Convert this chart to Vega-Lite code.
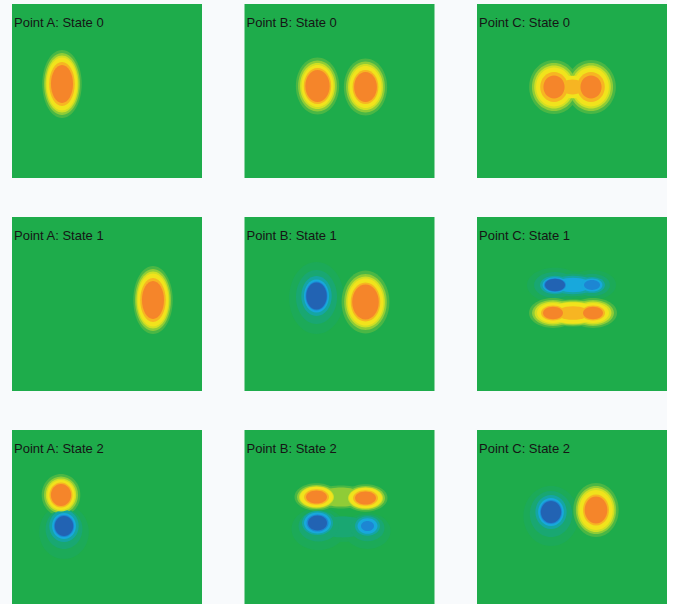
{
  "$schema": "https://vega.github.io/schema/vega-lite/v6.json",
  "background": "#f8fafc",
  "padding": {"left": 12, "top": 4, "right": 0, "bottom": 0},
  "data": {"values": [
    {"c":"A","s":0,"p":"Point A: State 0","x":50,"y":80,"f":"tall","v":1,"lv":1,"r":34},
    {"c":"A","s":0,"p":"Point A: State 0","x":50,"y":80,"f":"tall","v":2,"lv":2,"r":31},
    {"c":"A","s":0,"p":"Point A: State 0","x":50,"y":80,"f":"tall","v":3,"lv":3,"r":28.5},
    {"c":"A","s":0,"p":"Point A: State 0","x":50,"y":80,"f":"tall","v":4,"lv":4,"r":26.5},
    {"c":"A","s":0,"p":"Point A: State 0","x":50,"y":80,"f":"tall","v":5,"lv":5,"r":22},
    {"c":"A","s":0,"p":"Point A: State 0","x":50,"y":80,"f":"tall","v":6,"lv":6,"r":19},

    {"c":"B","s":0,"p":"Point B: State 0","x":73,"y":82,"f":"oval","v":1,"lv":1,"r":28.5},
    {"c":"B","s":0,"p":"Point B: State 0","x":73,"y":82,"f":"oval","v":2,"lv":2,"r":25.5},
    {"c":"B","s":0,"p":"Point B: State 0","x":73,"y":82,"f":"oval","v":3,"lv":3,"r":23},
    {"c":"B","s":0,"p":"Point B: State 0","x":73,"y":82,"f":"oval","v":4,"lv":4,"r":21},
    {"c":"B","s":0,"p":"Point B: State 0","x":73,"y":82,"f":"oval","v":5,"lv":5,"r":18},
    {"c":"B","s":0,"p":"Point B: State 0","x":73,"y":82,"f":"oval","v":6,"lv":6,"r":16},
    {"c":"B","s":0,"p":"Point B: State 0","x":121,"y":83,"f":"oval","v":1,"lv":1,"r":28.5},
    {"c":"B","s":0,"p":"Point B: State 0","x":121,"y":83,"f":"oval","v":2,"lv":2,"r":25.5},
    {"c":"B","s":0,"p":"Point B: State 0","x":121,"y":83,"f":"oval","v":3,"lv":3,"r":23},
    {"c":"B","s":0,"p":"Point B: State 0","x":121,"y":83,"f":"oval","v":4,"lv":4,"r":21},
    {"c":"B","s":0,"p":"Point B: State 0","x":121,"y":83,"f":"oval","v":5,"lv":5,"r":17},
    {"c":"B","s":0,"p":"Point B: State 0","x":121,"y":83,"f":"oval","v":6,"lv":6,"r":15},

    {"c":"C","s":0,"p":"Point C: State 0","x":77,"y":83,"f":"round","v":1,"lv":1,"r":27},
    {"c":"C","s":0,"p":"Point C: State 0","x":77,"y":83,"f":"round","v":2,"lv":2,"r":24},
    {"c":"C","s":0,"p":"Point C: State 0","x":77,"y":83,"f":"round","v":3,"lv":3,"r":21.5},
    {"c":"C","s":0,"p":"Point C: State 0","x":77,"y":83,"f":"round","v":4,"lv":4,"r":19.5},
    {"c":"C","s":0,"p":"Point C: State 0","x":77,"y":83,"f":"round","v":5,"lv":5,"r":15},
    {"c":"C","s":0,"p":"Point C: State 0","x":77,"y":83,"f":"round","v":6,"lv":6,"r":11.5},
    {"c":"C","s":0,"p":"Point C: State 0","x":114,"y":83,"f":"round","v":1,"lv":1,"r":27},
    {"c":"C","s":0,"p":"Point C: State 0","x":114,"y":83,"f":"round","v":2,"lv":2,"r":24},
    {"c":"C","s":0,"p":"Point C: State 0","x":114,"y":83,"f":"round","v":3,"lv":3,"r":21.5},
    {"c":"C","s":0,"p":"Point C: State 0","x":114,"y":83,"f":"round","v":4,"lv":4,"r":19.5},
    {"c":"C","s":0,"p":"Point C: State 0","x":114,"y":83,"f":"round","v":5,"lv":5,"r":15},
    {"c":"C","s":0,"p":"Point C: State 0","x":114,"y":83,"f":"round","v":6,"lv":6,"r":11.5},
    {"c":"C","s":0,"p":"Point C: State 0","x":95.5,"y":83,"f":"wide","v":4,"lv":4,"r":18},
    {"c":"C","s":0,"p":"Point C: State 0","x":95.5,"y":83,"f":"wide","v":5,"lv":5,"r":12},

    {"c":"A","s":1,"p":"Point A: State 1","x":141,"y":83,"f":"tall","v":1,"lv":1,"r":34},
    {"c":"A","s":1,"p":"Point A: State 1","x":141,"y":83,"f":"tall","v":2,"lv":2,"r":31},
    {"c":"A","s":1,"p":"Point A: State 1","x":141,"y":83,"f":"tall","v":3,"lv":3,"r":28.5},
    {"c":"A","s":1,"p":"Point A: State 1","x":141,"y":83,"f":"tall","v":4,"lv":4,"r":26.5},
    {"c":"A","s":1,"p":"Point A: State 1","x":141,"y":83,"f":"tall","v":5,"lv":5,"r":22},
    {"c":"A","s":1,"p":"Point A: State 1","x":141,"y":83,"f":"tall","v":6,"lv":6,"r":19},

    {"c":"B","s":1,"p":"Point B: State 1","x":72,"y":81,"f":"oval","v":-1,"lv":1,"r":36},
    {"c":"B","s":1,"p":"Point B: State 1","x":72,"y":80,"f":"oval","v":-2,"lv":2,"r":27},
    {"c":"B","s":1,"p":"Point B: State 1","x":72,"y":79,"f":"oval","v":-3,"lv":3,"r":20},
    {"c":"B","s":1,"p":"Point B: State 1","x":72,"y":79,"f":"oval","v":-4,"lv":4,"r":16.5},
    {"c":"B","s":1,"p":"Point B: State 1","x":72,"y":79,"f":"oval","v":-5,"lv":5,"r":14.5},
    {"c":"B","s":1,"p":"Point B: State 1","x":72,"y":79,"f":"oval","v":-6,"lv":6,"r":13.5},
    {"c":"B","s":1,"p":"Point B: State 1","x":121,"y":85,"f":"oval","v":1,"lv":1,"r":31.5},
    {"c":"B","s":1,"p":"Point B: State 1","x":121,"y":85,"f":"oval","v":2,"lv":2,"r":28},
    {"c":"B","s":1,"p":"Point B: State 1","x":121,"y":85,"f":"oval","v":3,"lv":3,"r":25.5},
    {"c":"B","s":1,"p":"Point B: State 1","x":121,"y":85,"f":"oval","v":4,"lv":4,"r":23.5},
    {"c":"B","s":1,"p":"Point B: State 1","x":121,"y":85,"f":"oval","v":5,"lv":5,"r":19.5},
    {"c":"B","s":1,"p":"Point B: State 1","x":121,"y":85,"f":"oval","v":6,"lv":6,"r":17.5},

    {"c":"C","s":1,"p":"Point C: State 1","x":96,"y":68,"f":"flat","v":-1,"lv":1,"r":34},
    {"c":"C","s":1,"p":"Point C: State 1","x":78,"y":68,"f":"wide","v":-1,"lv":1,"r":28},
    {"c":"C","s":1,"p":"Point C: State 1","x":115,"y":68,"f":"wide","v":-1,"lv":1,"r":24},
    {"c":"C","s":1,"p":"Point C: State 1","x":96,"y":68,"f":"flat","v":-2,"lv":2,"r":28},
    {"c":"C","s":1,"p":"Point C: State 1","x":78,"y":68,"f":"wide","v":-2,"lv":2,"r":21},
    {"c":"C","s":1,"p":"Point C: State 1","x":115,"y":68,"f":"wide","v":-2,"lv":2,"r":18},
    {"c":"C","s":1,"p":"Point C: State 1","x":96,"y":68,"f":"flat","v":-3,"lv":3,"r":23},
    {"c":"C","s":1,"p":"Point C: State 1","x":78,"y":68,"f":"wide","v":-3,"lv":3,"r":15},
    {"c":"C","s":1,"p":"Point C: State 1","x":115,"y":68,"f":"wide","v":-3,"lv":3,"r":13},
    {"c":"C","s":1,"p":"Point C: State 1","x":96,"y":68,"f":"flat","v":-4,"lv":4,"r":18},
    {"c":"C","s":1,"p":"Point C: State 1","x":78,"y":68,"f":"wide","v":-4,"lv":4,"r":12.5},
    {"c":"C","s":1,"p":"Point C: State 1","x":115,"y":68,"f":"wide","v":-4,"lv":4,"r":10.5},
    {"c":"C","s":1,"p":"Point C: State 1","x":78,"y":68,"f":"wide","v":-5,"lv":5,"r":11},
    {"c":"C","s":1,"p":"Point C: State 1","x":115,"y":68,"f":"wide","v":-5,"lv":5,"r":8},
    {"c":"C","s":1,"p":"Point C: State 1","x":78,"y":68,"f":"wide","v":-6,"lv":6,"r":10},
    {"c":"C","s":1,"p":"Point C: State 1","x":96,"y":96,"f":"flat","v":1,"lv":1,"r":34},
    {"c":"C","s":1,"p":"Point C: State 1","x":76,"y":96,"f":"wide","v":1,"lv":1,"r":24},
    {"c":"C","s":1,"p":"Point C: State 1","x":116,"y":96,"f":"wide","v":1,"lv":1,"r":24},
    {"c":"C","s":1,"p":"Point C: State 1","x":96,"y":96,"f":"flat","v":2,"lv":2,"r":31},
    {"c":"C","s":1,"p":"Point C: State 1","x":76,"y":96,"f":"wide","v":2,"lv":2,"r":21},
    {"c":"C","s":1,"p":"Point C: State 1","x":116,"y":96,"f":"wide","v":2,"lv":2,"r":21},
    {"c":"C","s":1,"p":"Point C: State 1","x":96,"y":96,"f":"flat","v":3,"lv":3,"r":28},
    {"c":"C","s":1,"p":"Point C: State 1","x":76,"y":96,"f":"wide","v":3,"lv":3,"r":18.5},
    {"c":"C","s":1,"p":"Point C: State 1","x":116,"y":96,"f":"wide","v":3,"lv":3,"r":18.5},
    {"c":"C","s":1,"p":"Point C: State 1","x":96,"y":96,"f":"flat","v":4,"lv":4,"r":26},
    {"c":"C","s":1,"p":"Point C: State 1","x":76,"y":96,"f":"wide","v":4,"lv":4,"r":16},
    {"c":"C","s":1,"p":"Point C: State 1","x":116,"y":96,"f":"wide","v":4,"lv":4,"r":16},
    {"c":"C","s":1,"p":"Point C: State 1","x":96,"y":96,"f":"flat","v":5,"lv":5,"r":17},
    {"c":"C","s":1,"p":"Point C: State 1","x":76,"y":96,"f":"wide","v":5,"lv":5,"r":12},
    {"c":"C","s":1,"p":"Point C: State 1","x":116,"y":96,"f":"wide","v":5,"lv":5,"r":12},
    {"c":"C","s":1,"p":"Point C: State 1","x":76,"y":96,"f":"wide","v":6,"lv":6,"r":10},
    {"c":"C","s":1,"p":"Point C: State 1","x":116,"y":96,"f":"wide","v":6,"lv":6,"r":10},

    {"c":"A","s":2,"p":"Point A: State 2","x":52,"y":102,"f":"round","v":-1,"lv":1,"r":27},
    {"c":"A","s":2,"p":"Point A: State 2","x":49,"y":65,"f":"round","v":1,"lv":1,"r":21},
    {"c":"A","s":2,"p":"Point A: State 2","x":52,"y":99,"f":"round","v":-2,"lv":2,"r":20},
    {"c":"A","s":2,"p":"Point A: State 2","x":49,"y":65,"f":"round","v":2,"lv":2,"r":18.5},
    {"c":"A","s":2,"p":"Point A: State 2","x":52,"y":96,"f":"round","v":-3,"lv":3,"r":16},
    {"c":"A","s":2,"p":"Point A: State 2","x":49,"y":65,"f":"round","v":3,"lv":3,"r":16.5},
    {"c":"A","s":2,"p":"Point A: State 2","x":52,"y":96,"f":"round","v":-4,"lv":4,"r":13},
    {"c":"A","s":2,"p":"Point A: State 2","x":49,"y":65,"f":"round","v":4,"lv":4,"r":15},
    {"c":"A","s":2,"p":"Point A: State 2","x":52,"y":96,"f":"round","v":-5,"lv":5,"r":11},
    {"c":"A","s":2,"p":"Point A: State 2","x":49,"y":65,"f":"round","v":5,"lv":5,"r":12.5},
    {"c":"A","s":2,"p":"Point A: State 2","x":52,"y":96,"f":"round","v":-6,"lv":6,"r":10},
    {"c":"A","s":2,"p":"Point A: State 2","x":49,"y":65,"f":"round","v":6,"lv":6,"r":11},

    {"c":"B","s":2,"p":"Point B: State 2","x":98,"y":99,"f":"flat","v":-1,"lv":1,"r":32},
    {"c":"B","s":2,"p":"Point B: State 2","x":74,"y":99,"f":"wideoval","v":-1,"lv":1,"r":27},
    {"c":"B","s":2,"p":"Point B: State 2","x":123,"y":101,"f":"wideoval","v":-1,"lv":1,"r":23},
    {"c":"B","s":2,"p":"Point B: State 2","x":96.5,"y":67,"f":"flat","v":1,"lv":1,"r":29},
    {"c":"B","s":2,"p":"Point B: State 2","x":72,"y":67,"f":"wide","v":1,"lv":1,"r":22},
    {"c":"B","s":2,"p":"Point B: State 2","x":121,"y":68,"f":"wide","v":1,"lv":1,"r":22},
    {"c":"B","s":2,"p":"Point B: State 2","x":98,"y":97,"f":"flat","v":-2,"lv":2,"r":26},
    {"c":"B","s":2,"p":"Point B: State 2","x":74,"y":96,"f":"wideoval","v":-2,"lv":2,"r":20},
    {"c":"B","s":2,"p":"Point B: State 2","x":123,"y":98,"f":"wideoval","v":-2,"lv":2,"r":17},
    {"c":"B","s":2,"p":"Point B: State 2","x":96.5,"y":67,"f":"flat","v":2,"lv":2,"r":24},
    {"c":"B","s":2,"p":"Point B: State 2","x":72,"y":67,"f":"wide","v":2,"lv":2,"r":19.5},
    {"c":"B","s":2,"p":"Point B: State 2","x":121,"y":68,"f":"wide","v":2,"lv":2,"r":19.5},
    {"c":"B","s":2,"p":"Point B: State 2","x":73,"y":93,"f":"wideoval","v":-3,"lv":3,"r":15.5},
    {"c":"B","s":2,"p":"Point B: State 2","x":123,"y":96,"f":"wideoval","v":-3,"lv":3,"r":12.5},
    {"c":"B","s":2,"p":"Point B: State 2","x":72,"y":67,"f":"wide","v":3,"lv":3,"r":17.5},
    {"c":"B","s":2,"p":"Point B: State 2","x":121,"y":68,"f":"wide","v":3,"lv":3,"r":17.5},
    {"c":"B","s":2,"p":"Point B: State 2","x":73,"y":93,"f":"wideoval","v":-4,"lv":4,"r":13.5},
    {"c":"B","s":2,"p":"Point B: State 2","x":123,"y":96,"f":"wideoval","v":-4,"lv":4,"r":10},
    {"c":"B","s":2,"p":"Point B: State 2","x":72,"y":67,"f":"wide","v":4,"lv":4,"r":16.5},
    {"c":"B","s":2,"p":"Point B: State 2","x":121,"y":68,"f":"wide","v":4,"lv":4,"r":16.5},
    {"c":"B","s":2,"p":"Point B: State 2","x":73,"y":93,"f":"wideoval","v":-5,"lv":5,"r":11},
    {"c":"B","s":2,"p":"Point B: State 2","x":123,"y":96,"f":"wideoval","v":-5,"lv":5,"r":6.5},
    {"c":"B","s":2,"p":"Point B: State 2","x":72,"y":67,"f":"wide","v":5,"lv":5,"r":12.5},
    {"c":"B","s":2,"p":"Point B: State 2","x":121,"y":68,"f":"wide","v":5,"lv":5,"r":12.5},
    {"c":"B","s":2,"p":"Point B: State 2","x":73,"y":93,"f":"wideoval","v":-6,"lv":6,"r":9.5},
    {"c":"B","s":2,"p":"Point B: State 2","x":72,"y":67,"f":"wide","v":6,"lv":6,"r":10.5},
    {"c":"B","s":2,"p":"Point B: State 2","x":121,"y":68,"f":"wide","v":6,"lv":6,"r":10.5},

    {"c":"C","s":2,"p":"Point C: State 2","x":74,"y":86,"f":"round","v":-1,"lv":1,"r":30},
    {"c":"C","s":2,"p":"Point C: State 2","x":119,"y":80,"f":"mid","v":1,"lv":1,"r":27},
    {"c":"C","s":2,"p":"Point C: State 2","x":74,"y":84,"f":"round","v":-2,"lv":2,"r":23},
    {"c":"C","s":2,"p":"Point C: State 2","x":119,"y":80,"f":"mid","v":2,"lv":2,"r":24},
    {"c":"C","s":2,"p":"Point C: State 2","x":74,"y":82,"f":"round","v":-3,"lv":3,"r":17},
    {"c":"C","s":2,"p":"Point C: State 2","x":119,"y":80,"f":"mid","v":3,"lv":3,"r":22},
    {"c":"C","s":2,"p":"Point C: State 2","x":74,"y":82,"f":"round","v":-4,"lv":4,"r":14},
    {"c":"C","s":2,"p":"Point C: State 2","x":119,"y":80,"f":"mid","v":4,"lv":4,"r":20},
    {"c":"C","s":2,"p":"Point C: State 2","x":74,"y":82,"f":"round","v":-5,"lv":5,"r":12},
    {"c":"C","s":2,"p":"Point C: State 2","x":119,"y":80,"f":"mid","v":5,"lv":5,"r":15.5},
    {"c":"C","s":2,"p":"Point C: State 2","x":74,"y":82,"f":"round","v":-6,"lv":6,"r":11},
    {"c":"C","s":2,"p":"Point C: State 2","x":119,"y":80,"f":"mid","v":6,"lv":6,"r":13.5}
  ]},
  "facet": {
    "row": {"field": "s", "type": "ordinal", "title": null, "header": {"labels": false, "title": null}},
    "column": {"field": "c", "type": "nominal", "title": null, "header": {"labels": false, "title": null}}
  },
  "spacing": {"row": 39, "column": 42.5},
  "spec": {
    "width": 190,
    "height": 174,
    "layer": [
      {
        "mark": {"type": "point", "filled": true, "opacity": 1, "strokeWidth": 0},
        "encoding": {
          "x": {"field": "x", "type": "quantitative", "scale": {"domain": [0, 190], "nice": false, "zero": false}, "axis": null},
          "y": {"field": "y", "type": "quantitative", "scale": {"domain": [0, 174], "nice": false, "zero": false, "reverse": true}, "axis": null},
          "size": {"field": "r", "type": "quantitative", "scale": {"type": "pow", "exponent": 2, "domain": [0, 95], "range": [0, 36100]}, "legend": null},
          "shape": {"field": "f", "type": "nominal", "scale": {
            "domain": ["tall", "oval", "mid", "round", "wide", "wideoval", "flat"],
            "range": [
              "M0,-1 A0.58,1 0 1,1 0,1 A0.58,1 0 1,1 0,-1 Z",
              "M0,-1 A0.76,1 0 1,1 0,1 A0.76,1 0 1,1 0,-1 Z",
              "M0,-1 A0.84,1 0 1,1 0,1 A0.84,1 0 1,1 0,-1 Z",
              "M0,-1 A0.92,1 0 1,1 0,1 A0.92,1 0 1,1 0,-1 Z",
              "M-1,0 A1,0.62 0 1,1 1,0 A1,0.62 0 1,1 -1,0 Z",
              "M-1,0 A1,0.78 0 1,1 1,0 A1,0.78 0 1,1 -1,0 Z",
              "M-1,0 A1,0.4 0 1,1 1,0 A1,0.4 0 1,1 -1,0 Z"
            ]}, "legend": null},
          "color": {"field": "v", "type": "ordinal", "scale": {
            "domain": [-6, -5, -4, -3, -2, -1, 1, 2, 3, 4, 5, 6],
            "range": ["#2263b3", "#1d86d3", "#18a8dc", "#15a5a4", "#19a772", "#1caa58", "#4ab745", "#8fcc37", "#cfdf24", "#f1e31c", "#f7b522", "#f5852a"]
          }, "legend": null},
          "order": {"field": "lv", "type": "quantitative"}
        }
      },
      {
        "transform": [{"aggregate": [{"op": "count", "as": "n"}], "groupby": ["p"]}],
        "mark": {"type": "text", "align": "left", "baseline": "alphabetic", "font": "Liberation Sans", "fontSize": 13, "color": "#151515"},
        "encoding": {
          "x": {"datum": 2, "type": "quantitative"},
          "y": {"datum": 23, "type": "quantitative"},
          "text": {"field": "p", "type": "nominal"}
        }
      }
    ]
  },
  "config": {
    "view": {"fill": "#1eac4b", "stroke": null}
  }
}
